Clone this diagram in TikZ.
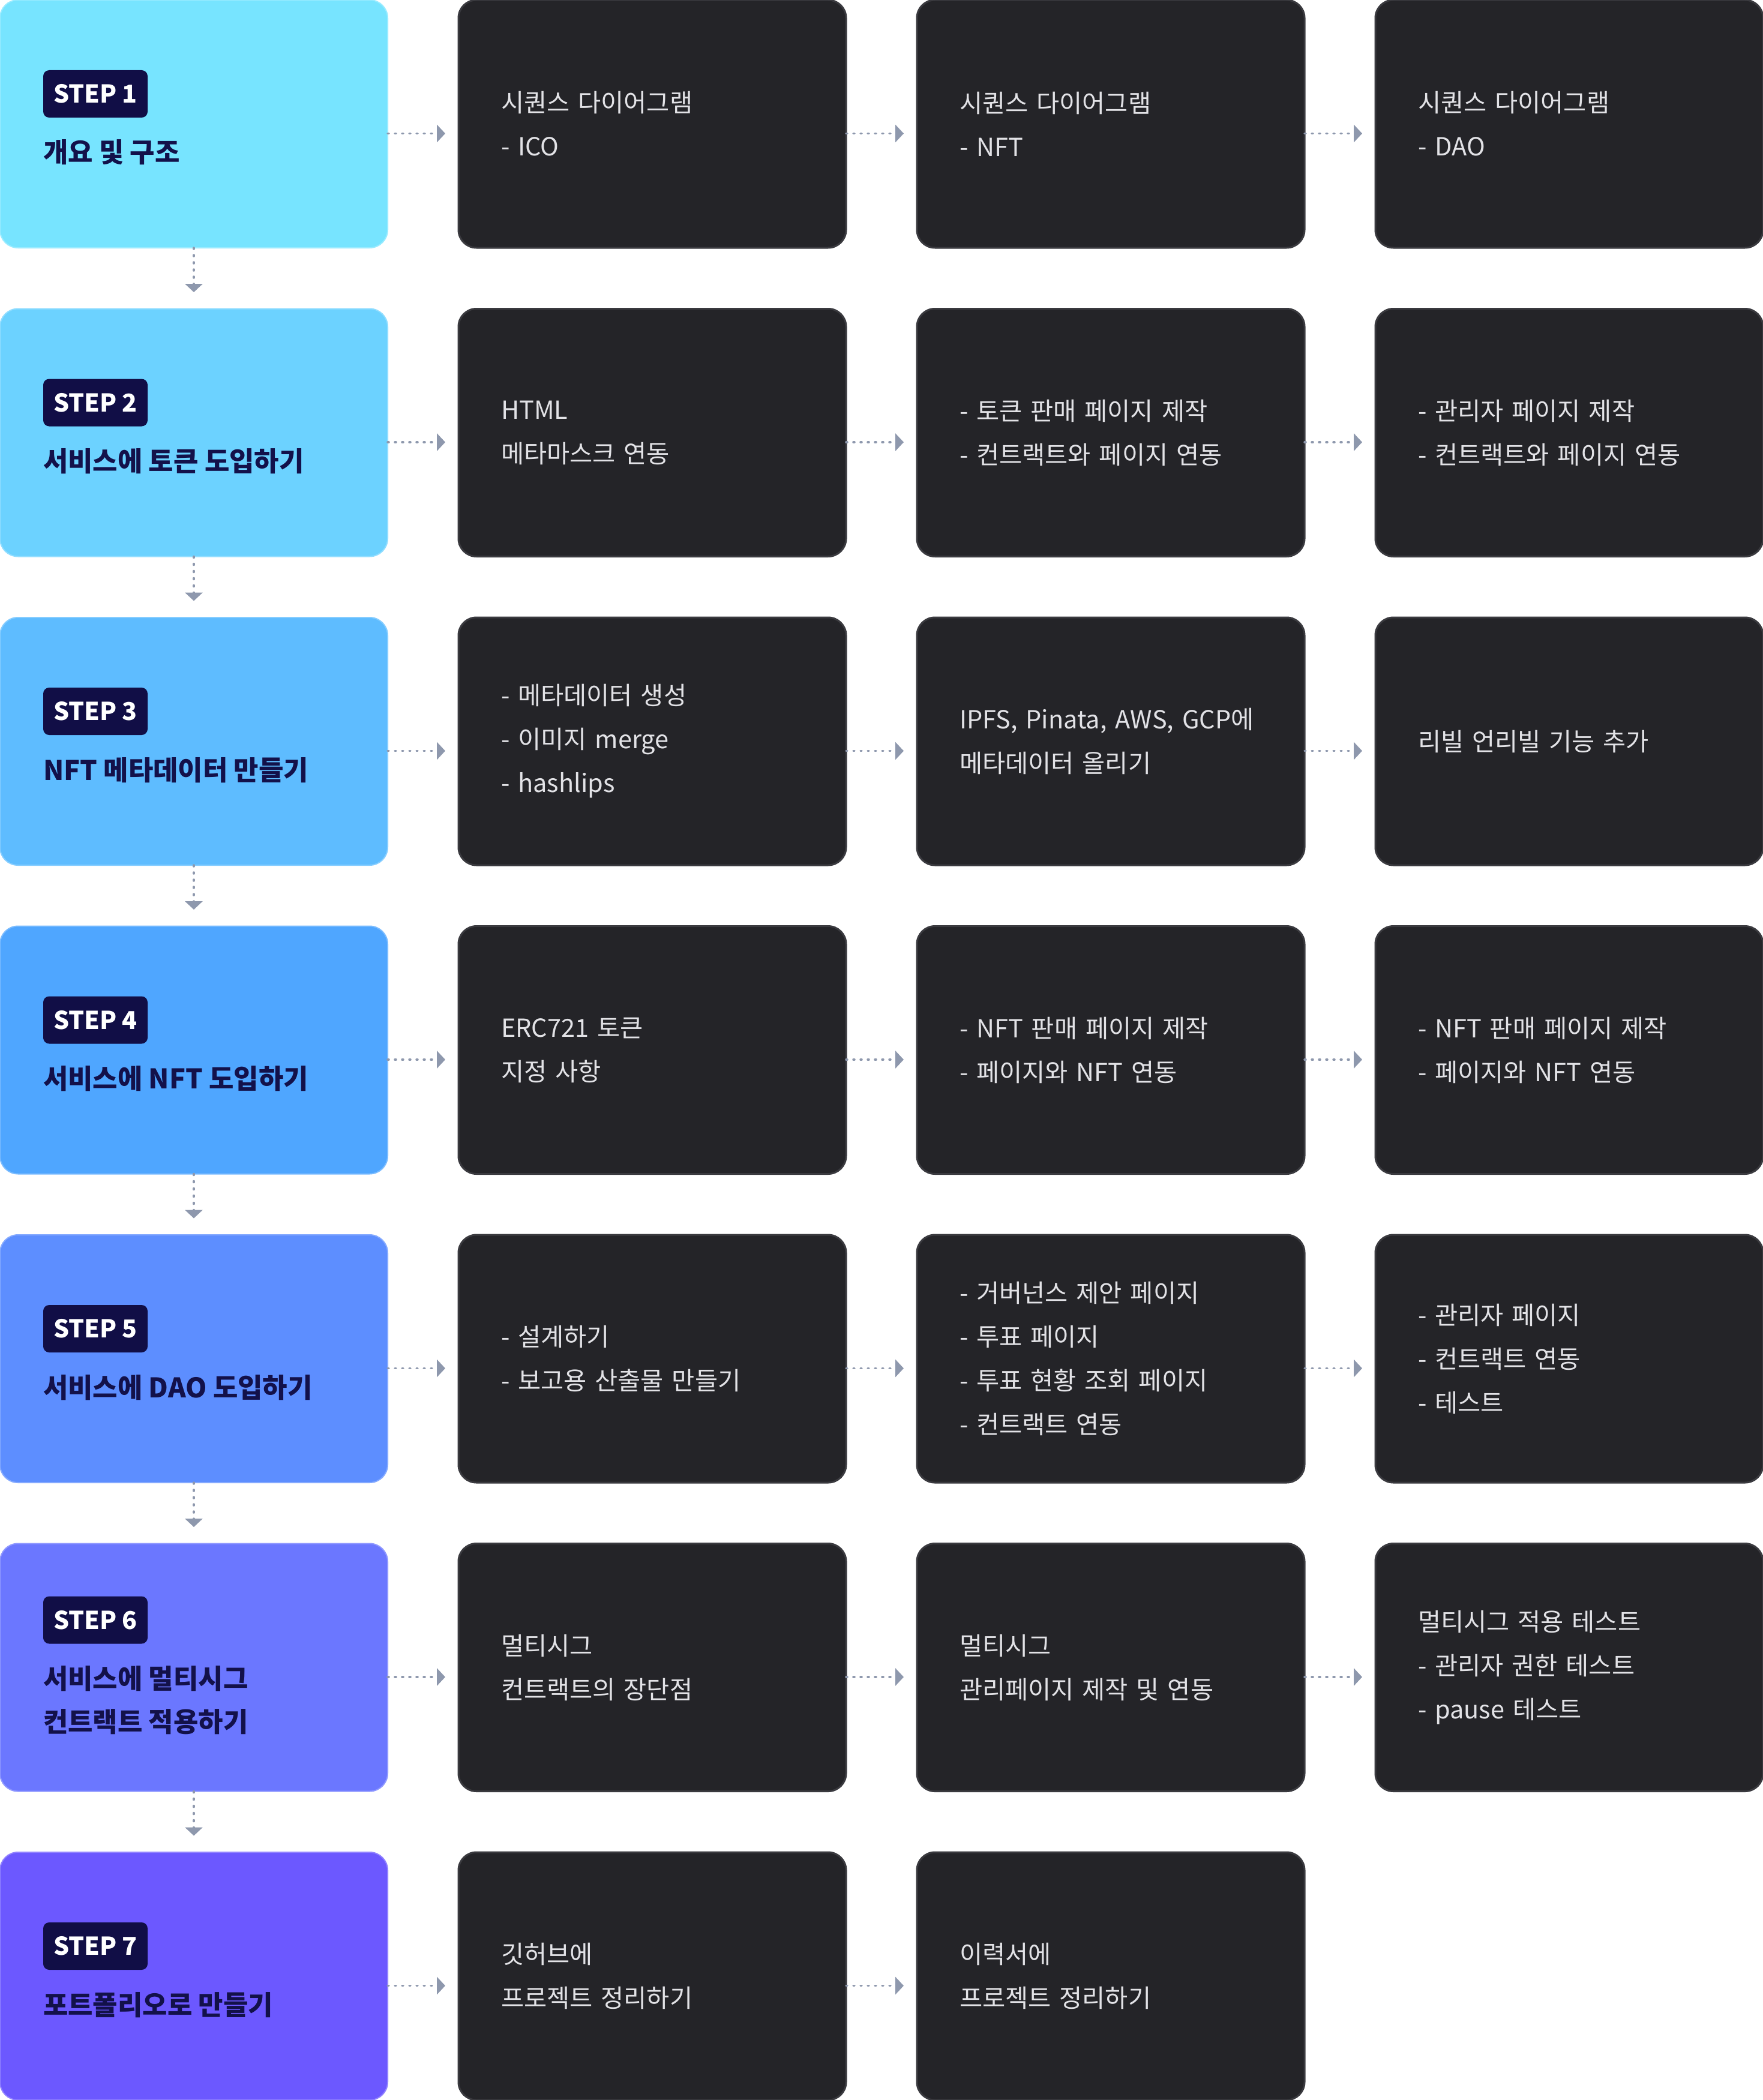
\documentclass[tikz,border=0pt]{standalone}
\usepackage{fontspec}
\setmainfont{Noto Sans CJK KR}
\usetikzlibrary{positioning,arrows.meta}

\definecolor{stepA}{HTML}{77E4FF}
\definecolor{stepB}{HTML}{6CD2FF}
\definecolor{stepC}{HTML}{5EBCFF}
\definecolor{stepD}{HTML}{4FA6FF}
\definecolor{stepE}{HTML}{5D8EFF}
\definecolor{stepF}{HTML}{6B77FF}
\definecolor{stepG}{HTML}{6C58FF}
\definecolor{darkbg}{HTML}{242428}
\definecolor{darkline}{HTML}{3A3A3F}
\definecolor{darktext}{HTML}{E2E2E6}
\definecolor{navy}{HTML}{13114A}
\definecolor{badgebg}{HTML}{110E46}
\definecolor{arrowgray}{HTML}{8E98AD}

\begin{document}
\begin{tikzpicture}[node distance={50.75pt and 59pt}, outer sep=0pt,
    card/.style = {rounded corners=15pt, minimum width=323pt, minimum height=206.5pt},
    stepbox/.style = {card, fill=#1, draw=#1!75!white, line width=1pt},
    main/.style = {card, fill=darkbg, draw=darkline, line width=1.5pt, text=darktext,
        text width=252pt, inner xsep=35.5pt, inner ysep=0pt, align=left,
        font=\fontsize{20.75pt}{36.5pt}\selectfont},
    badge/.style = {fill=badgebg, text=white, rounded corners=5pt, anchor=north west,
        minimum width=87pt, minimum height=39.5pt, inner sep=0pt,
        font=\bfseries\fontsize{20.5pt}{24pt}\selectfont},
    title/.style = {text=navy, anchor=north west, inner sep=0pt, align=left,
        font=\bfseries\fontsize{22.5pt}{36pt}\selectfont},
    flow/.style = {draw=arrowgray, line width=1.75pt, line cap=round,
        dash pattern=on 1pt off 5pt, -{Triangle[length=7pt,width=14.5pt]}}]
    \useasboundingbox (0,0) rectangle (1469pt,-1750pt);

    % step column
    \node[stepbox=stepA, anchor=north west] (S1) at (0,0) {};
    \node[stepbox=stepB] (S2) [below=of S1] {};
    \node[stepbox=stepC] (S3) [below=of S2] {};
    \node[stepbox=stepD] (S4) [below=of S3] {};
    \node[stepbox=stepE] (S5) [below=of S4] {};
    \node[stepbox=stepF] (S6) [below=of S5] {};
    \node[stepbox=stepG] (S7) [below=of S6] {};

    \node[badge] (L1) at ([xshift=36pt,yshift=-58.5pt]S1.north west) {STEP 1};
    \node[badge] (L2) at ([xshift=36pt,yshift=-58.5pt]S2.north west) {STEP 2};
    \node[badge] (L3) at ([xshift=36pt,yshift=-58.5pt]S3.north west) {STEP 3};
    \node[badge] (L4) at ([xshift=36pt,yshift=-58.5pt]S4.north west) {STEP 4};
    \node[badge] (L5) at ([xshift=36pt,yshift=-58.5pt]S5.north west) {STEP 5};
    \node[badge] (L6) at ([xshift=36pt,yshift=-44pt]S6.north west) {STEP 6};
    \node[badge] (L7) at ([xshift=36pt,yshift=-58.5pt]S7.north west) {STEP 7};

    \node[title] (T1) at ([yshift=-18.5pt]L1.south west) {개요 및 구조};
    \node[title] (T2) at ([yshift=-18.5pt]L2.south west) {서비스에 토큰 도입하기};
    \node[title] (T3) at ([yshift=-18.5pt]L3.south west) {NFT 메타데이터 만들기};
    \node[title] (T4) at ([yshift=-18.5pt]L4.south west) {서비스에 NFT 도입하기};
    \node[title] (T5) at ([yshift=-18.5pt]L5.south west) {서비스에 DAO 도입하기};
    \node[title] (T6) at ([yshift=-18.5pt]L6.south west) {서비스에 멀티시그\\컨트랙트 적용하기};
    \node[title] (T7) at ([yshift=-18.5pt]L7.south west) {포트폴리오로 만들기};

    % task boxes
    \node[main] (A1) [right=of S1] {시퀀스 다이어그램\\- ICO};
    \node[main] (B1) [right=of A1] {시퀀스 다이어그램\\- NFT};
    \node[main] (C1) [right=of B1] {시퀀스 다이어그램\\- DAO};
    \node[main] (A2) [right=of S2] {HTML\\메타마스크 연동};
    \node[main] (B2) [right=of A2] {- 토큰 판매 페이지 제작\\- 컨트랙트와 페이지 연동};
    \node[main] (C2) [right=of B2] {- 관리자 페이지 제작\\- 컨트랙트와 페이지 연동};
    \node[main] (A3) [right=of S3] {- 메타데이터 생성\\- 이미지 merge\\- hashlips};
    \node[main] (B3) [right=of A3] {IPFS, Pinata, AWS, GCP에\\메타데이터 올리기};
    \node[main] (C3) [right=of B3] {리빌 언리빌 기능 추가};
    \node[main] (A4) [right=of S4] {ERC721 토큰\\지정 사항};
    \node[main] (B4) [right=of A4] {- NFT 판매 페이지 제작\\- 페이지와 NFT 연동};
    \node[main] (C4) [right=of B4] {- NFT 판매 페이지 제작\\- 페이지와 NFT 연동};
    \node[main] (A5) [right=of S5] {- 설계하기\\- 보고용 산출물 만들기};
    \node[main] (B5) [right=of A5] {- 거버넌스 제안 페이지\\- 투표 페이지\\- 투표 현황 조회 페이지\\- 컨트랙트 연동};
    \node[main] (C5) [right=of B5] {- 관리자 페이지\\- 컨트랙트 연동\\- 테스트};
    \node[main] (A6) [right=of S6] {멀티시그\\컨트랙트의 장단점};
    \node[main] (B6) [right=of A6] {멀티시그\\관리페이지 제작 및 연동};
    \node[main] (C6) [right=of B6] {멀티시그 적용 테스트\\- 관리자 권한 테스트\\- pause 테스트};
    \node[main] (A7) [right=of S7] {깃허브에\\프로젝트 정리하기};
    \node[main] (B7) [right=of A7] {이력서에\\프로젝트 정리하기};

    % arrows down the step column
    \draw[flow] (S1.south) -- ([yshift=13.75pt]S2.north);
    \draw[flow] (S2.south) -- ([yshift=13.75pt]S3.north);
    \draw[flow] (S3.south) -- ([yshift=13.75pt]S4.north);
    \draw[flow] (S4.south) -- ([yshift=13.75pt]S5.north);
    \draw[flow] (S5.south) -- ([yshift=13.75pt]S6.north);
    \draw[flow] (S6.south) -- ([yshift=13.75pt]S7.north);

    % arrows along the rows
    \draw[flow] ([yshift=-8pt]S1.east) -- ([xshift=-11pt,yshift=-8pt]A1.west);
    \draw[flow] ([yshift=-8pt]A1.east) -- ([xshift=-11pt,yshift=-8pt]B1.west);
    \draw[flow] ([yshift=-8pt]B1.east) -- ([xshift=-11pt,yshift=-8pt]C1.west);
    \draw[flow] ([yshift=-8pt]S2.east) -- ([xshift=-11pt,yshift=-8pt]A2.west);
    \draw[flow] ([yshift=-8pt]A2.east) -- ([xshift=-11pt,yshift=-8pt]B2.west);
    \draw[flow] ([yshift=-8pt]B2.east) -- ([xshift=-11pt,yshift=-8pt]C2.west);
    \draw[flow] ([yshift=-8pt]S3.east) -- ([xshift=-11pt,yshift=-8pt]A3.west);
    \draw[flow] ([yshift=-8pt]A3.east) -- ([xshift=-11pt,yshift=-8pt]B3.west);
    \draw[flow] ([yshift=-8pt]B3.east) -- ([xshift=-11pt,yshift=-8pt]C3.west);
    \draw[flow] ([yshift=-8pt]S4.east) -- ([xshift=-11pt,yshift=-8pt]A4.west);
    \draw[flow] ([yshift=-8pt]A4.east) -- ([xshift=-11pt,yshift=-8pt]B4.west);
    \draw[flow] ([yshift=-8pt]B4.east) -- ([xshift=-11pt,yshift=-8pt]C4.west);
    \draw[flow] ([yshift=-8pt]S5.east) -- ([xshift=-11pt,yshift=-8pt]A5.west);
    \draw[flow] ([yshift=-8pt]A5.east) -- ([xshift=-11pt,yshift=-8pt]B5.west);
    \draw[flow] ([yshift=-8pt]B5.east) -- ([xshift=-11pt,yshift=-8pt]C5.west);
    \draw[flow] ([yshift=-8pt]S6.east) -- ([xshift=-11pt,yshift=-8pt]A6.west);
    \draw[flow] ([yshift=-8pt]A6.east) -- ([xshift=-11pt,yshift=-8pt]B6.west);
    \draw[flow] ([yshift=-8pt]B6.east) -- ([xshift=-11pt,yshift=-8pt]C6.west);
    \draw[flow] ([yshift=-8pt]S7.east) -- ([xshift=-11pt,yshift=-8pt]A7.west);
    \draw[flow] ([yshift=-8pt]A7.east) -- ([xshift=-11pt,yshift=-8pt]B7.west);
\end{tikzpicture}
\end{document}
